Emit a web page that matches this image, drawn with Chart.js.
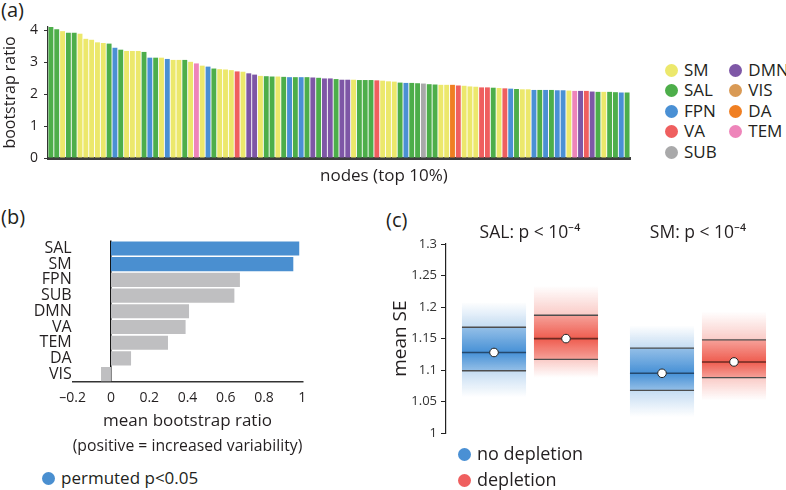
<!DOCTYPE html>
<html>
<head>
<meta charset="utf-8">
<script src="https://cdn.jsdelivr.net/npm/chart.js@4"></script>
<style>
  body { margin: 0; background: #fff; width: 786px; height: 490px; overflow: hidden; position: relative;
         font-family: 'Open Sans', sans-serif; color: #231f20; }
  canvas { position: absolute; }
  .panel { position: absolute; font-size: 20px; line-height: 20px; }
  .dot { display: inline-block; width: 13px; height: 13px; border-radius: 50%; margin-right: 6px; vertical-align: middle; position: relative; top: -1px; }
  .item { font-size: 17px; line-height: 20.4px; white-space: nowrap; }
  #titleA { position: absolute; left: 320px; top: 164px; font-size: 17px; line-height: 22px; white-space: nowrap; }
  #legendA { position: absolute; left: 665px; top: 60px; display: grid; grid-template-rows: repeat(5, 20.4px);
             grid-auto-flow: column; grid-auto-columns: 64.3px; }
  #legendB { position: absolute; left: 42px; top: 468px; }
  #legendC { position: absolute; left: 458px; top: 440px; }
  #legendC .item { font-size: 18px; line-height: 26.3px; }
</style>
</head>
<body>
<div class="panel" style="left:1px;top:0px">(a)</div>
<div class="panel" style="left:1px;top:207px">(b)</div>
<div class="panel" style="left:386px;top:210px">(c)</div>

<canvas id="chartA" width="640" height="190" style="left:0;top:0"></canvas>
<canvas id="chartB" width="320" height="228" style="left:0;top:230px"></canvas>
<canvas id="chartC" width="406" height="240" style="left:380px;top:205px"></canvas>

<div id="titleA">nodes (top 10%)</div>
<div id="legendA"></div>
<div id="legendB"></div>
<div id="legendC"></div>

<script>
// ---------- data ----------
const netColors = {
    SM: '#ece86c', SAL: '#4dae4a', FPN: '#4a90d4', VA: '#ef5f5f', SUB: '#a9a9aa',
    DMN: '#7e57a6', VIS: '#d99a55', DA: '#f07f22', TEM: '#ee85ba'
};
const legendNetworks = ['SM', 'SAL', 'FPN', 'VA', 'SUB', 'DMN', 'VIS', 'DA', 'TEM'];

// (a) top 10% nodes, sorted by bootstrap ratio
const nodeNetwork = [
    'SAL','SAL','SM','SAL','SAL','SM','SM','SM','SM','SM',
    'SAL','FPN','SAL','SM','SM','SM','SAL','FPN','SAL','SM',
    'FPN','SM','SM','SAL','SM','TEM','SM','FPN','SAL','SM',
    'SM','SM','VA','SM','DMN','DMN','SM','SAL','SAL','SM',
    'SAL','FPN','SAL','FPN','SAL','DMN','SAL','DMN','DMN','SAL',
    'DMN','DMN','SM','SAL','SAL','SAL','VA','SM','SM','SM',
    'SAL','FPN','SAL','SAL','SUB','SAL','SAL','SM','SM','DA',
    'VA','SM','SM','SM','VA','VA','SAL','SM','VA','FPN',
    'SAL','SM','SM','FPN','SAL','FPN','SAL','FPN','FPN','SM',
    'TEM','DMN','VA','DMN','SAL','SM','SAL','SAL','FPN','SAL'
];
const nodeRatio = [
    4.10, 4.03, 3.97, 3.92, 3.92, 3.89, 3.73, 3.70, 3.62, 3.60,
    3.58, 3.45, 3.39, 3.35, 3.35, 3.35, 3.32, 3.14, 3.14, 3.14,
    3.10, 3.07, 3.07, 3.07, 3.01, 2.96, 2.89, 2.86, 2.80, 2.78,
    2.77, 2.75, 2.71, 2.70, 2.65, 2.61, 2.57, 2.56, 2.55, 2.55,
    2.54, 2.53, 2.53, 2.53, 2.53, 2.52, 2.51, 2.49, 2.49, 2.47,
    2.45, 2.45, 2.45, 2.44, 2.44, 2.44, 2.43, 2.42, 2.40, 2.39,
    2.36, 2.35, 2.35, 2.34, 2.33, 2.31, 2.30, 2.29, 2.29, 2.29,
    2.27, 2.26, 2.24, 2.23, 2.21, 2.21, 2.20, 2.19, 2.18, 2.17,
    2.16, 2.15, 2.15, 2.13, 2.13, 2.13, 2.13, 2.12, 2.12, 2.11,
    2.10, 2.10, 2.10, 2.08, 2.07, 2.07, 2.07, 2.06, 2.05, 2.05
];

// (b) mean bootstrap ratio per network
const netNames = ['SAL', 'SM', 'FPN', 'SUB', 'DMN', 'VA', 'TEM', 'DA', 'VIS'];
const netMeanRatio = [0.984, 0.953, 0.674, 0.645, 0.408, 0.390, 0.298, 0.105, -0.052];
const netSignificant = [true, true, false, false, false, false, false, false, false];

// (c) mean SE: [outer low, lower line, median, upper line, outer high]
const seGroups = ['SAL', 'SM'];
const seP = ['10⁻⁴', '10⁻⁴'];
const noDepletion = [[1.057, 1.099, 1.128, 1.168, 1.208], [1.026, 1.068, 1.095, 1.135, 1.171]];
const depletion = [[1.088, 1.117, 1.150, 1.187, 1.234], [1.052, 1.088, 1.113, 1.148, 1.193]];

// ---------- common ----------
const ink = '#231f20';
Chart.defaults.font.family = "'Open Sans', sans-serif";
Chart.defaults.color = ink;
const noPlugins = { legend: { display: false }, tooltip: { enabled: false } };

// legends (html)
function legendItem(color, text) {
    return `<div class="item"><span class="dot" style="background:${color}"></span>${text}</div>`;
}
document.getElementById('legendA').innerHTML = legendNetworks.map(n => legendItem(netColors[n], n)).join('');
document.getElementById('legendB').innerHTML = legendItem('#4a8fd0', 'permuted p&lt;0.05');
document.getElementById('legendC').innerHTML = legendItem('#4a90d4', 'no depletion') + legendItem('#ef5f5f', 'depletion');

// ---------- (a) ----------
new Chart(document.getElementById('chartA'), {
    type: 'bar',
    data: {
        labels: nodeNetwork,
        datasets: [{
            data: nodeRatio,
            backgroundColor: nodeNetwork.map(n => netColors[n]),
            barPercentage: 0.84,
            categoryPercentage: 1
        }]
    },
    options: {
        responsive: false,
        animation: false,
        layout: { padding: { top: 27, right: 10, left: 0, bottom: 0 } },
        plugins: noPlugins,
        scales: {
            x: {
                ticks: { display: false },
                grid: { display: false },
                border: { display: true, width: 3, color: '#3d3d3d' },
                afterFit: s => { s.height = 32; }
            },
            y: {
                min: 0, max: 4.1,
                ticks: { stepSize: 1, includeBounds: false, font: { size: 14 }, padding: 6 },
                grid: { drawOnChartArea: false, drawTicks: true, tickLength: 4, color: '#333' },
                border: { color: '#333', width: 1.2 },
                title: { display: true, text: 'bootstrap ratio', font: { size: 16 }, padding: { top: 1 } },
                afterFit: s => { s.width = 48; }
            }
        }
    }
});

// ---------- (b) ----------
const round1 = v => Math.round(v * 10) / 10;
new Chart(document.getElementById('chartB'), {
    type: 'bar',
    data: {
        labels: netNames,
        datasets: [{
            data: netMeanRatio,
            backgroundColor: netSignificant.map(s => s ? '#4a8fd0' : '#bfbfc1'),
            barPercentage: 0.9,
            categoryPercentage: 1
        }]
    },
    options: {
        indexAxis: 'y',
        responsive: false,
        animation: false,
        layout: { padding: { top: 10, right: 17.7, left: 0, bottom: 0 } },
        plugins: noPlugins,
        scales: {
            x: {
                min: -0.2, max: 1, z: 1,
                ticks: {
                    stepSize: 0.2, font: { size: 14 }, padding: 8, maxRotation: 0, minRotation: 0,
                    callback: v => round1(v) < 0 ? '–' + Math.abs(round1(v)) : String(round1(v))
                },
                grid: {
                    drawTicks: false, lineWidth: 1.5,
                    color: c => (c.tick && Math.abs(c.tick.value) < 1e-9) ? '#111' : 'rgba(0,0,0,0)'
                },
                border: { color: '#333', width: 1.5 },
                title: {
                    display: true,
                    text: ['mean bootstrap ratio', '(positive = increased variability)'],
                    font: { size: 17, lineHeight: 1.45 }, padding: 0
                },
                afterFit: s => { s.height = 76; }
            },
            y: {
                ticks: { font: { size: 16 }, padding: 1, autoSkip: false, maxRotation: 0, minRotation: 0 },
                grid: { display: false, drawTicks: false },
                border: { display: false },
                afterFit: s => { s.width = 72.7; }
            }
        }
    }
});

// ---------- (c) ----------
function bandFill(rgb, stats) {
    return (c) => {
        const chart = c.chart;
        if (!chart.chartArea || c.dataIndex === undefined) return `rgba(${rgb},0.5)`;
        const s = stats[c.dataIndex];
        const y = chart.scales.y;
        const top = y.getPixelForValue(s[4]), bot = y.getPixelForValue(s[0]);
        const f = v => Math.min(1, Math.max(0, (y.getPixelForValue(v) - top) / (bot - top)));
        const g = chart.ctx.createLinearGradient(0, top, 0, bot);
        g.addColorStop(0, `rgba(${rgb},0)`);
        g.addColorStop(f(s[3]) - 0.002, `rgba(${rgb},0.3)`);
        g.addColorStop(f(s[3]), `rgba(${rgb},0.55)`);
        g.addColorStop(f(s[2]), `rgba(${rgb},0.95)`);
        g.addColorStop(f(s[1]), `rgba(${rgb},0.55)`);
        g.addColorStop(f(s[1]) + 0.002, `rgba(${rgb},0.3)`);
        g.addColorStop(1, `rgba(${rgb},0)`);
        return g;
    };
}

const boxLines = {
    id: 'boxLines',
    afterDatasetsDraw(chart) {
        const { ctx, scales: { y } } = chart;
        chart.data.datasets.forEach((ds, di) => {
            chart.getDatasetMeta(di).data.forEach((bar, i) => {
                const s = ds.stats[i];
                const l = bar.x - bar.width / 2, r = bar.x + bar.width / 2;
                ctx.save();
                ctx.lineWidth = 1.3;
                ctx.strokeStyle = '#4d4d4d';
                [s[1], s[3]].forEach(v => {
                    const py = y.getPixelForValue(v);
                    ctx.beginPath(); ctx.moveTo(l, py); ctx.lineTo(r, py); ctx.stroke();
                });
                const my = y.getPixelForValue(s[2]);
                ctx.lineWidth = 1.6;
                ctx.strokeStyle = ds.medianColor;
                ctx.beginPath(); ctx.moveTo(l, my); ctx.lineTo(r, my); ctx.stroke();
                ctx.beginPath();
                ctx.arc(bar.x, my, 4.3, 0, Math.PI * 2);
                ctx.fillStyle = '#fff';
                ctx.fill();
                ctx.lineWidth = 1;
                ctx.strokeStyle = '#222';
                ctx.stroke();
                ctx.restore();
            });
        });
    }
};

new Chart(document.getElementById('chartC'), {
    type: 'bar',
    data: {
        labels: seGroups.map((g, i) => `${g}: p < ${seP[i]}`),
        datasets: [
            {
                label: 'no depletion',
                data: noDepletion.map(s => [s[0], s[4]]),
                stats: noDepletion,
                backgroundColor: bandFill('61,139,212', noDepletion),
                medianColor: '#24496e',
                barPercentage: 0.89,
                categoryPercentage: 0.857
            },
            {
                label: 'depletion',
                data: depletion.map(s => [s[0], s[4]]),
                stats: depletion,
                backgroundColor: bandFill('238,84,70', depletion),
                medianColor: '#6e2a22',
                barPercentage: 0.89,
                categoryPercentage: 0.857
            }
        ]
    },
    options: {
        responsive: false,
        animation: false,
        layout: { padding: { top: 0, right: 4, left: 0, bottom: 8.3 } },
        plugins: noPlugins,
        scales: {
            x: {
                position: 'top',
                ticks: { font: { size: 17.5 }, padding: -8, maxRotation: 0, minRotation: 0 },
                grid: { display: false },
                border: { display: false },
                afterFit: s => { s.height = 39; }
            },
            y: {
                min: 1, max: 1.3,
                ticks: {
                    stepSize: 0.05, font: { size: 13 }, padding: 4, color: '#333',
                    callback: v => String(Math.round(v * 100) / 100)
                },
                grid: { drawOnChartArea: false, drawTicks: true, tickLength: 5, color: '#222' },
                border: { color: '#222', width: 1.2 },
                title: { display: true, text: 'mean SE', font: { size: 19 }, padding: { top: 9 } },
                afterFit: s => { s.width = 66; }
            }
        }
    },
    plugins: [boxLines]
});
</script>
</body>
</html>
